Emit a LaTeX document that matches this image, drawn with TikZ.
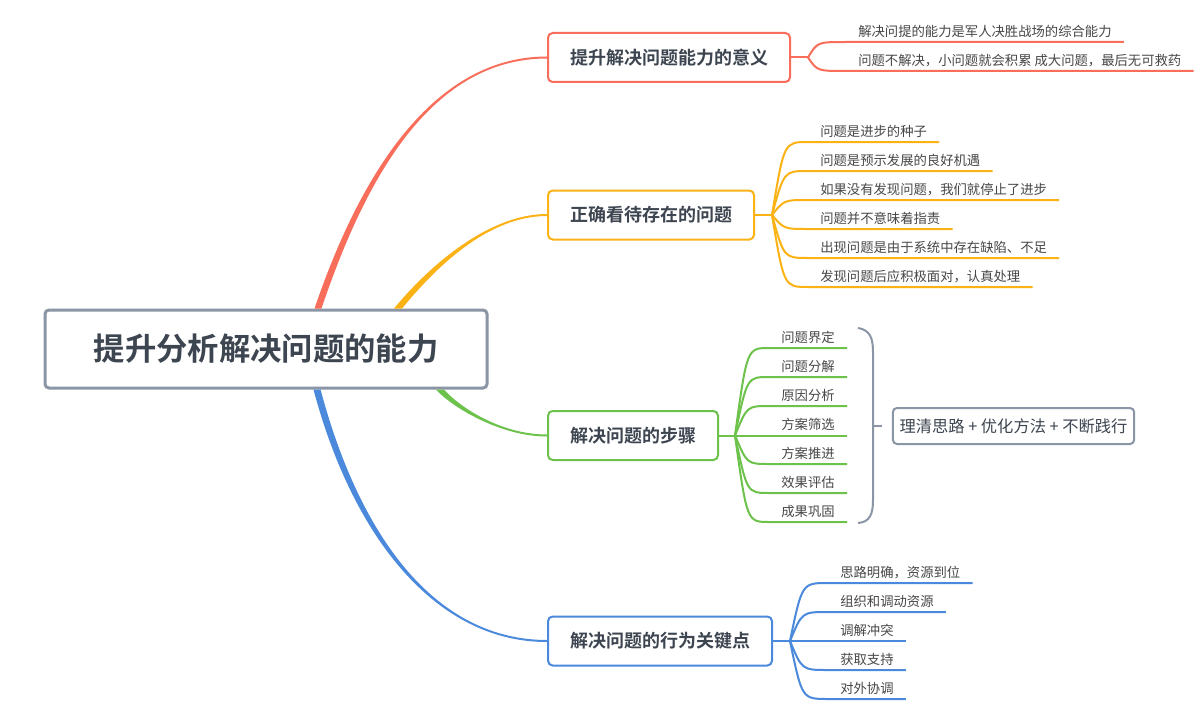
\documentclass[tikz,border=0pt]{standalone}
\usepackage{fontspec}
\setmainfont{Noto Sans CJK SC}[BoldFont={Noto Sans CJK SC Bold}]
\usetikzlibrary{positioning}
\definecolor{mmred}{HTML}{F96E5B}
\definecolor{mmorange}{HTML}{FBB215}
\definecolor{mmgreen}{HTML}{6CC24A}
\definecolor{mmblue}{HTML}{4A89DC}
\definecolor{mmgray}{HTML}{8A95A5}
\definecolor{mmtext}{HTML}{3D4550}

\begin{document}
\begin{tikzpicture}[
x=0.75pt, y=-0.75pt,
rootbox/.style={draw=mmgray, line width=2.25pt, rounded corners=3pt, fill=white, minimum width=331.5pt, minimum height=58.5pt, font=\fontsize{23.5}{28}\selectfont\bfseries, text=mmtext},
topic/.style={draw=#1, line width=1.5pt, rounded corners=3.5pt, fill=white, minimum height=36.75pt, inner xsep=16.5pt, font=\fontsize{13.5}{16}\selectfont\bfseries, text=mmtext},
leaf/.style={inner xsep=9pt, inner ysep=2pt, text height=8pt, text depth=2pt, font=\fontsize{10}{12}\selectfont, text=black!72},
sumbox/.style={draw=mmgray, line width=1.5pt, rounded corners=3pt, fill=white, minimum height=27pt, inner xsep=5pt, font=\fontsize{12.2}{14}\selectfont, text=mmtext},
branch/.style={fill=#1},
twig/.style={draw=#1, line width=1.5pt}
]
\useasboundingbox[fill=white] (0,0) rectangle (1202,717);

% central topic and main topics
\node[rootbox] (root) at (266,349) {提升分析解决问题的能力};
\node[topic=mmred, anchor=west] (t1) at (547,57.5) {提升解决问题能力的意义};
\node[topic=mmorange, anchor=west] (t2) at (547,215) {正确看待存在的问题};
\node[topic=mmgreen, anchor=west] (t3) at (547,435.5) {解决问题的步骤};
\node[topic=mmblue, anchor=west] (t4) at (547,641) {解决问题的行为关键点};

% tapered main branches
\fill[branch=mmred] ([xshift=36.4pt]root.north) .. controls +(41,-121) and +(-120,0) .. ([yshift=0.75pt]t1.west)
  -- ([yshift=-0.75pt]t1.west) .. controls +(-120,0) and +(41,-121) .. ([xshift=41.6pt]root.north) -- cycle;
\fill[branch=mmorange] ([xshift=96pt]root.north) .. controls +(33,-40) and +(-60,0) .. ([yshift=0.75pt]t2.west)
  -- ([yshift=-0.75pt]t2.west) .. controls +(-60,0) and +(33,-40) .. ([xshift=102pt]root.north) -- cycle;
\fill[branch=mmgreen] ([xshift=127.5pt]root.south) .. controls +(15,17) and +(-47,0) .. ([yshift=-0.75pt]t3.west)
  -- ([yshift=0.75pt]t3.west) .. controls +(-47,0) and +(15,17) .. ([xshift=133.5pt]root.south) -- cycle;
\fill[branch=mmblue] ([xshift=35.6pt]root.south) .. controls +(40,150) and +(-110,0) .. ([yshift=-0.75pt]t4.west)
  -- ([yshift=0.75pt]t4.west) .. controls +(-110,0) and +(40,150) .. ([xshift=40.9pt]root.south) -- cycle;

\coordinate[right=12.75pt of t1.east] (j1);
\coordinate[right=12.75pt of t2.east] (j2);
\coordinate[right=12pt of t3.east] (j3);
\coordinate[right=12.75pt of t4.east] (j4);
\draw[twig=mmred] (t1.east) -- (j1);
\draw[twig=mmorange] (t2.east) -- (j2);
\draw[twig=mmgreen] (t3.east) -- (j3);
\draw[twig=mmblue] (t4.east) -- (j4);

% meaning
\node[leaf, anchor=south west] (r1) at (846,42) {解决问提的能力是军人决胜战场的综合能力};
\node[leaf, anchor=south west] (r2) at (846,71) {问题不解决，小问题就会积累 成大问题，最后无可救药};
\draw[twig=mmred] (j1) .. controls ([xshift=7pt]j1 |- r1.south west) .. (r1.south west) -- (r1.south east);
\draw[twig=mmred] (j1) .. controls ([xshift=7pt]j1 |- r2.south west) .. (r2.south west) -- (r2.south east);

% view on problems
\node[leaf, anchor=south west] (o1) at (808,142) {问题是进步的种子};
\node[leaf, anchor=south west] (o2) at (808,171) {问题是预示发展的良好机遇};
\node[leaf, anchor=south west] (o3) at (808,200) {如果没有发现问题，我们就停止了进步};
\node[leaf, anchor=south west] (o4) at (808,229) {问题并不意味着指责};
\node[leaf, anchor=south west] (o5) at (808,258) {出现问题是由于系统中存在缺陷、不足};
\node[leaf, anchor=south west] (o6) at (808,287) {发现问题后应积极面对，认真处理};
\draw[twig=mmorange] (j2) .. controls ([xshift=9pt]j2 |- o1.south west) .. (o1.south west) -- (o1.south east);
\draw[twig=mmorange] (j2) .. controls ([xshift=9pt]j2 |- o2.south west) .. (o2.south west) -- (o2.south east);
\draw[twig=mmorange] (j2) .. controls ([xshift=9pt]j2 |- o3.south west) .. (o3.south west) -- (o3.south east);
\draw[twig=mmorange] (j2) .. controls ([xshift=9pt]j2 |- o4.south west) .. (o4.south west) -- (o4.south east);
\draw[twig=mmorange] (j2) .. controls ([xshift=9pt]j2 |- o5.south west) .. (o5.south west) -- (o5.south east);
\draw[twig=mmorange] (j2) .. controls ([xshift=9pt]j2 |- o6.south west) .. (o6.south west) -- (o6.south east);

% steps
\node[leaf, anchor=south east] (g1) at (847,348) {问题界定};
\node[leaf, anchor=south east] (g2) at (847,377) {问题分解};
\node[leaf, anchor=south east] (g3) at (847,406) {原因分析};
\node[leaf, anchor=south east] (g4) at (847,435.5) {方案筛选};
\node[leaf, anchor=south east] (g5) at (847,464) {方案推进};
\node[leaf, anchor=south east] (g6) at (847,493) {效果评估};
\node[leaf, anchor=south east] (g7) at (847,522) {成果巩固};
\draw[twig=mmgreen] (j3) .. controls ([xshift=9pt]j3 |- g1.south west) .. (g1.south west) -- (g1.south east);
\draw[twig=mmgreen] (j3) .. controls ([xshift=9pt]j3 |- g2.south west) .. (g2.south west) -- (g2.south east);
\draw[twig=mmgreen] (j3) .. controls ([xshift=9pt]j3 |- g3.south west) .. (g3.south west) -- (g3.south east);
\draw[twig=mmgreen] (j3) -- (g4.south east);
\draw[twig=mmgreen] (j3) .. controls ([xshift=9pt]j3 |- g5.south west) .. (g5.south west) -- (g5.south east);
\draw[twig=mmgreen] (j3) .. controls ([xshift=9pt]j3 |- g6.south west) .. (g6.south west) -- (g6.south east);
\draw[twig=mmgreen] (j3) .. controls ([xshift=9pt]j3 |- g7.south west) .. (g7.south west) -- (g7.south east);

% summary of the steps
\coordinate (btop) at (858,328);
\coordinate (bbot) at (858,523);
\coordinate (btip) at (882,426);
\node[sumbox] (sum) at (1013.5,426) {理清思路 + 优化方法 + 不断践行};
\draw[mmgray, line width=1.5pt] (btop) .. controls (870,330) and (873,338) .. (873,352) -- (873,500) .. controls (873,514) and (870,522) .. (bbot);
\draw[mmgray, line width=1.5pt] (873,426) -- (btip);

% key behaviours
\node[leaf, anchor=south west] (b1) at (828,583) {思路明确，资源到位};
\node[leaf, anchor=south west] (b2) at (828,612) {组织和调动资源};
\node[leaf, anchor=south west] (b3) at (828,641) {调解冲突};
\node[leaf, anchor=south west] (b4) at (828,670) {获取支持};
\node[leaf, anchor=south west] (b5) at (828,699) {对外协调};
\draw[twig=mmblue] (j4) .. controls ([xshift=9pt]j4 |- b1.south west) .. (b1.south west) -- (b1.south east);
\draw[twig=mmblue] (j4) .. controls ([xshift=9pt]j4 |- b2.south west) .. (b2.south west) -- (b2.south east);
\draw[twig=mmblue] (j4) -- (b3.south east);
\draw[twig=mmblue] (j4) .. controls ([xshift=9pt]j4 |- b4.south west) .. (b4.south west) -- (b4.south east);
\draw[twig=mmblue] (j4) .. controls ([xshift=9pt]j4 |- b5.south west) .. (b5.south west) -- (b5.south east);
\end{tikzpicture}
\end{document}
